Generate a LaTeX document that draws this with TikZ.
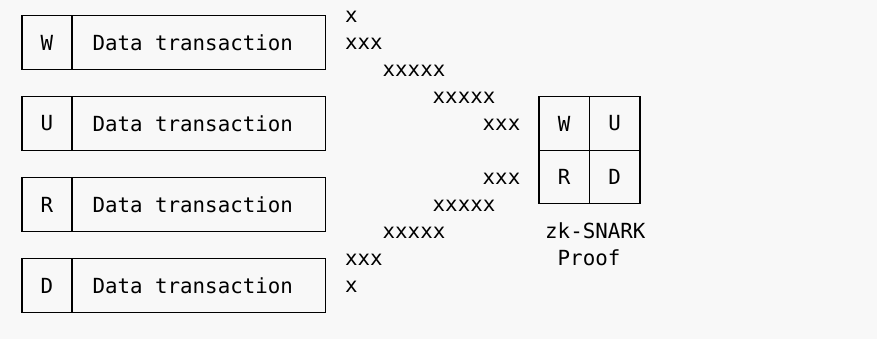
\documentclass[tikz,border=0pt]{standalone}
\usepackage{fontspec}
\setmonofont{DejaVu Sans Mono}
\definecolor{bg}{HTML}{F8F8F8}
\begin{document}
\begin{tikzpicture}[x=1pt,y=-1pt,
  mono/.style={font=\ttfamily\fontsize{20.8}{24}\selectfont, text=black},
  cell/.style={mono, draw=black, line width=1.1pt, inner sep=0pt, minimum height=54pt},
  lettercell/.style={cell, minimum width=50pt},
  datacell/.style={cell, anchor=west, text width=213pt, align=flush left, inner xsep=20pt, inner ysep=0pt},
  gridcell/.style={mono, draw=black, line width=1.1pt, inner sep=0pt, minimum width=50.5pt, minimum height=53.6pt},
  ascii/.style={mono, anchor=base west, inner sep=0pt}
]
\useasboundingbox (0,0) rectangle (877,339);
\fill[bg] (0,0) rectangle (877,339);

% left boxes
\node[lettercell] (lw) at (47,42.5) {W};
\node[datacell] (dw) at (72,42.5) {Data transaction};
\node[lettercell] (lu) at (47,123.5) {U};
\node[datacell] (du) at (72,123.5) {Data transaction};
\node[lettercell] (lr) at (47,204.5) {R};
\node[datacell] (dr) at (72,204.5) {Data transaction};
\node[lettercell] (ld) at (47,285.5) {D};
\node[datacell] (dd) at (72,285.5) {Data transaction};

% ascii funnel
\node[ascii] (a0) at (345,22.3) {x};
\node[ascii] (a1) at (345,49.3) {xxx};
\node[ascii] (a2) at (382.5,76.3) {xxxxx};
\node[ascii] (a3) at (432.5,103.3) {xxxxx};
\node[ascii] (a4) at (482.5,130.3) {xxx};
\node[ascii] (a6) at (482.5,184.3) {xxx};
\node[ascii] (a7) at (432.5,211.3) {xxxxx};
\node[ascii] (a8) at (382.5,238.3) {xxxxx};
\node[ascii] (a9) at (345,265.3) {xxx};
\node[ascii] (a10) at (345,292.3) {x};

% proof grid
\node[gridcell] (gw) at (564.25,123.5) {W};
\node[gridcell] (gu) at (614.75,123.5) {U};
\node[gridcell] (gr) at (564.25,177.1) {R};
\node[gridcell] (gd) at (614.75,177.1) {D};

\node[ascii] (zk) at (545,238.3) {zk-SNARK};
\node[ascii] (pf) at (557.5,265.3) {Proof};
\end{tikzpicture}
\end{document}
